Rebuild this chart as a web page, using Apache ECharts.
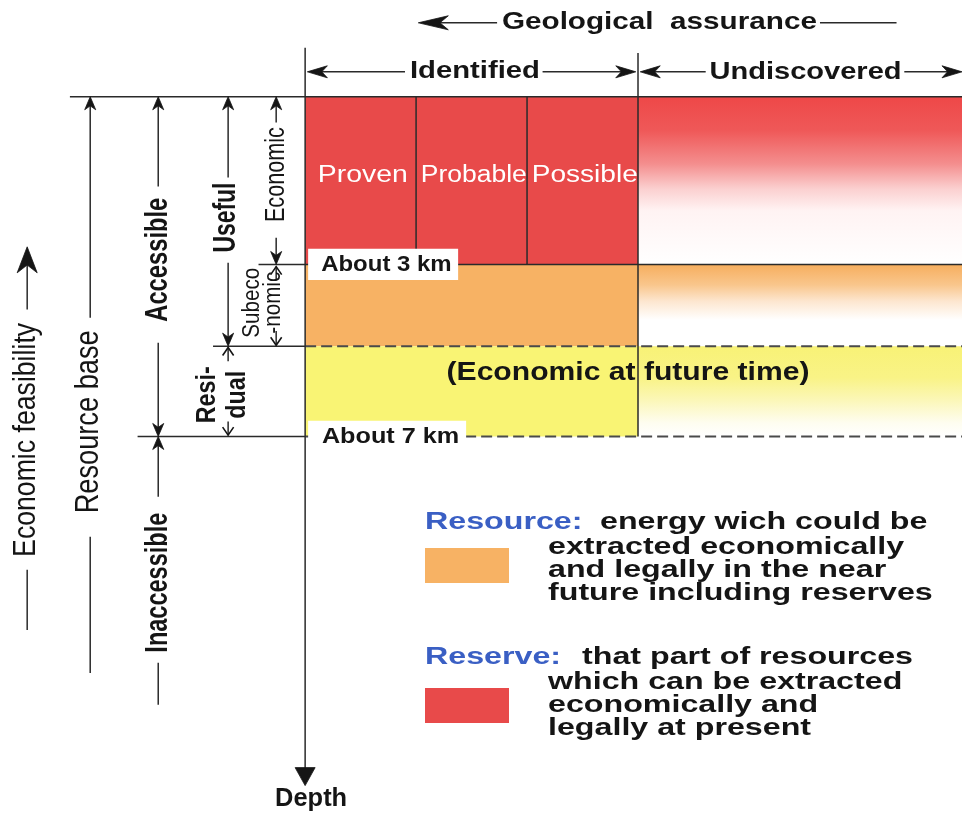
<!DOCTYPE html>
<html><head><meta charset="utf-8">
<script src="https://cdn.jsdelivr.net/npm/echarts@6/dist/echarts.min.js"></script>
<style>html,body{margin:0;padding:0;background:#fff}#c{width:962px;height:814px}</style>
</head><body><div id="c"></div>
<script>
// ---------------- data ----------------
const identifiedColumns = ['Proven', 'Probable', 'Possible'];
const assuranceClasses = ['Identified', 'Undiscovered'];
const feasibilityRows = ['Economic', 'Subeconomic', 'Residual'];
const rowEdges = [0, 3.9, 5.8, 7.9];            // schematic depth units (surface, ~3 km, sub/residual, ~7 km)
const depthMarkLabels = ['About 3 km', 'About 7 km'];
const depthMarkLevels = [rowEdges[1], rowEdges[3]];
const futureLabel = '(Economic at future time)';
const axisTitles = ['Geological  assurance', 'Economic feasibility', 'Depth'];
const leftBrackets = ['Resource base', 'Accessible', 'Inaccessible', 'Useful', 'Resi-\ndual', 'Economic', 'Subeco\n-nomic'];
const legendTerms = ['Resource:', 'Reserve:'];
const legendTexts = [
  ['energy wich could be', 'extracted economically', 'and legally in the near', 'future including reserves'],
  ['that part of resources', 'which can be extracted', 'economically and', 'legally at present']
];

// ---------------- layout / style ----------------
const X_MIN = -2.75, X_MAX = 5.92, Y_MIN = -2.25, Y_MAX = 16.68;
const FAMILY = '"Liberation Sans", Arial, Helvetica, sans-serif';
const RED = '#e84a4a', ORANGE = '#f7b264', YELLOW = '#f9f474', BLUE = '#3a5fc4', INK = '#151515';
const nCols = identifiedColumns.length;
const E = rowEdges;

const LG = echarts.graphic.LinearGradient;
const undiscoveredFills = [
  new LG(0, 0, 0, 1, [{offset:0,color:'#ee4848'},{offset:0.2,color:'#ef5858'},{offset:0.4,color:'#f48e8e'},{offset:0.55,color:'#fbd0d0'},{offset:0.68,color:'#fff3f3'},{offset:1,color:'#ffffff'}]),
  new LG(0, 0, 0, 1, [{offset:0,color:'#f6ae5e'},{offset:0.25,color:'#f9c68c'},{offset:0.45,color:'#fde6cf'},{offset:0.68,color:'#ffffff'},{offset:1,color:'#ffffff'}]),
  new LG(0, 0, 0, 1, [{offset:0,color:'#f8f276'},{offset:0.35,color:'#f9f386'},{offset:0.6,color:'#fbf7b8'},{offset:0.85,color:'#fefdf0'},{offset:1,color:'#ffffff'}])
];

// cells built from data arrays
const cells = [];
identifiedColumns.forEach((c, i) => cells.push({ x0: i, x1: i + 1, y0: E[0], y1: E[1], fill: RED }));
cells.push({ x0: 0, x1: nCols, y0: E[1], y1: E[2], fill: ORANGE });
cells.push({ x0: 0, x1: nCols, y0: E[2], y1: E[3], fill: YELLOW });
feasibilityRows.forEach((r, i) => cells.push({ x0: nCols, x1: X_MAX, y0: E[i], y1: E[i + 1], fill: undiscoveredFills[i] }));

// arrowhead styles (pixels)
const HEADS = {
  tri:   { len: 18, hw: 10, notch: 1 },
  small: { len: 13, hw: 5.5, notch: 0.7 },
  mid:   { len: 20, hw: 6, notch: 0.72 },
  big:   { len: 30, hw: 7, notch: 0.72 },
  feas:  { len: 26, hw: 10, notch: 0.7 },
  chev:  { len: 8, hw: 5.5, chev: true }
};

const EFx = -2.505, RBx = -1.937, ACx = -1.324, USx = -0.694, ECx = -0.261;
const segments = [
  { x0: -2.12, y0: E[0], x1: X_MAX, y1: E[0] },
  { x0: -0.42, y0: E[1], x1: X_MAX, y1: E[1] },
  { x0: -0.83, y0: E[2], x1: 0, y1: E[2] },
  { x0: 0, y0: E[2], x1: X_MAX, y1: E[2], dash: true },
  { x0: -1.51, y0: E[3], x1: 0, y1: E[3] },
  { x0: 0, y0: E[3], x1: X_MAX, y1: E[3], dash: true },
  ...identifiedColumns.slice(1).map((c, i) => ({ x0: i + 1, y0: E[0], x1: i + 1, y1: E[1] })),
  { x0: nCols, y0: -1.02, x1: nCols, y1: E[3] },
  { x0: 0, y0: -1.14, x1: 0, y1: 16.02, head: 'tri' },
  // header arrows
  { x0: 1.73, y0: -1.72, x1: 1.02, y1: -1.72, head: 'big' },
  { x0: 4.64, y0: -1.72, x1: 5.33, y1: -1.72 },
  { x0: 0.9, y0: -0.58, x1: 0.02, y1: -0.58, head: 'mid' },
  { x0: 2.14, y0: -0.58, x1: nCols - 0.02, y1: -0.58, head: 'mid' },
  { x0: 3.61, y0: -0.58, x1: nCols + 0.02, y1: -0.58, head: 'mid' },
  { x0: 5.40, y0: -0.58, x1: X_MAX, y1: -0.58, head: 'mid' },
  // left brackets
  { x0: EFx, y0: 12.40, x1: EFx, y1: 11.0 },
  { x0: EFx, y0: 4.95, x1: EFx, y1: 3.49, head: 'feas' },
  { x0: RBx, y0: 5.14, x1: RBx, y1: E[0], head: 'small' },
  { x0: RBx, y0: 10.23, x1: RBx, y1: 13.4 },
  { x0: ACx, y0: 2.09, x1: ACx, y1: E[0], head: 'small' },
  { x0: ACx, y0: 5.72, x1: ACx, y1: E[3], head: 'small' },
  { x0: ACx, y0: 9.30, x1: ACx, y1: E[3], head: 'small' },
  { x0: ACx, y0: 13.16, x1: ACx, y1: 14.14 },
  { x0: USx, y0: 1.88, x1: USx, y1: E[0], head: 'small' },
  { x0: USx, y0: 3.86, x1: USx, y1: E[2], head: 'small' },
  { x0: ECx, y0: 0.6, x1: ECx, y1: E[0], head: 'small' },
  { x0: ECx, y0: 3.28, x1: ECx, y1: E[1], head: 'small' },
  { x0: ECx, y0: 4.25, x1: ECx, y1: E[1] + 0.05, head: 'chev' },
  { x0: ECx, y0: 5.45, x1: ECx, y1: E[2] - 0.02, head: 'chev' },
  { x0: USx, y0: 6.15, x1: USx, y1: E[2] + 0.03, head: 'chev' },
  { x0: USx, y0: 7.55, x1: USx, y1: E[3] - 0.03, head: 'chev' }
];

// labels (x,y in axis units; width = target pixel length along reading direction)
const labels = [
  { text: axisTitles[0], x: 3.193, y: -1.72, size: 24, weight: 'bold', width: 315 },
  { text: assuranceClasses[0], x: 1.53, y: -0.58, size: 24, weight: 'bold', width: 130 },
  { text: assuranceClasses[1], x: 4.51, y: -0.56, size: 24, weight: 'bold', width: 192 },
  ...identifiedColumns.map((c, i) => ({ text: c, x: i + 0.52, y: (E[0] + E[1]) / 2 - 0.12, size: 23, weight: 'normal', color: '#ffffff', width: i === 0 ? 90 : 106 })),
  { text: futureLabel, x: 2.91, y: 6.42, size: 26, weight: 'bold', width: 363 },
  ...depthMarkLabels.map((t, i) => ({ text: t, x: 0.027, y: depthMarkLevels[i], size: 22, weight: 'bold', width: i === 0 ? 150 : 158, align: 'left', bg: '#ffffff', pad: [3, 6, 3, 12] })),
  { text: axisTitles[2], x: 0.054, y: 16.33, size: 25, weight: 'bold', width: 72 },
  // rotated
  { text: axisTitles[1], x: -2.51, y: 7.98, size: 26, weight: 'normal', width: 234, rot: true, sy: 1.2 },
  { text: leftBrackets[0], x: -1.955, y: 7.56, size: 26, weight: 'normal', width: 183, rot: true, sy: 1.3 },
  { text: leftBrackets[1], x: -1.324, y: 3.79, size: 24, weight: 'bold', width: 124, rot: true, sy: 1.3 },
  { text: leftBrackets[2], x: -1.324, y: 11.30, size: 24, weight: 'bold', width: 140, rot: true, sy: 1.3 },
  { text: leftBrackets[3], x: -0.712, y: 2.81, size: 23, weight: 'bold', width: 70, rot: true, sy: 1.35 },
  { text: leftBrackets[4], x: -0.748, y: 6.93, size: 21, weight: 'bold', width: 57, rot: true, sy: 1.3, lh: 23 },
  { text: leftBrackets[5], x: -0.265, y: 1.81, size: 21, weight: 'normal', width: 95, rot: true, sy: 1.35 },
  { text: leftBrackets[6], x: -0.378, y: 4.79, size: 18, weight: 'normal', width: 70, rot: true, sy: 1.28, lh: 16 }
];

// ---------------- helpers ----------------
const mctx = document.createElement('canvas').getContext('2d');
function measure(text, size, weight) {
  mctx.font = `${weight} ${size}px ${FAMILY}`;
  return Math.max(...text.split('\n').map(t => mctx.measureText(t).width));
}
function headShape(tip, from, h) {
  let dx = tip[0] - from[0], dy = tip[1] - from[1];
  const d = Math.hypot(dx, dy) || 1; dx /= d; dy /= d;
  const px = -dy, py = dx;
  const bx = tip[0] - dx * h.len, by = tip[1] - dy * h.len;
  if (h.chev) {
    return { type: 'polyline', shape: { points: [[bx + px * h.hw, by + py * h.hw], tip, [bx - px * h.hw, by - py * h.hw]] },
      style: { stroke: INK, lineWidth: 1.6, fill: null } };
  }
  const nx = tip[0] - dx * h.len * h.notch, ny = tip[1] - dy * h.len * h.notch;
  return { type: 'polygon', shape: { points: [tip, [bx + px * h.hw, by + py * h.hw], [nx, ny], [bx - px * h.hw, by - py * h.hw]] },
    style: { fill: INK, stroke: INK, lineWidth: 0.8 } };
}

const chart = echarts.init(document.getElementById('c'), null, { renderer: 'canvas' });
chart.setOption({
  animation: false,
  backgroundColor: '#ffffff',
  grid: { left: 0, right: 0, top: 0, bottom: 0 },
  xAxis: { type: 'value', min: X_MIN, max: X_MAX, show: false },
  yAxis: { type: 'value', min: Y_MIN, max: Y_MAX, inverse: true, show: false },
  series: [
    {
      type: 'custom', name: 'cells', z: 1, silent: true,
      data: cells.map(c => [c.x0, c.y0, c.x1, c.y1]),
      encode: { x: [0, 2], y: [1, 3] },
      renderItem(params, api) {
        const c = cells[params.dataIndex];
        const p0 = api.coord([api.value(0), api.value(1)]);
        const p1 = api.coord([api.value(2), api.value(3)]);
        return { type: 'rect', shape: { x: p0[0], y: p0[1], width: p1[0] - p0[0], height: p1[1] - p0[1] }, style: { fill: c.fill } };
      }
    },
    {
      type: 'custom', name: 'lines', z: 2, silent: true,
      data: segments.map(s => [s.x0, s.y0, s.x1, s.y1]),
      encode: { x: [0, 2], y: [1, 3] },
      renderItem(params, api) {
        const s = segments[params.dataIndex];
        const p0 = api.coord([api.value(0), api.value(1)]);
        let p1 = api.coord([api.value(2), api.value(3)]);
        const children = [];
        let end = p1;
        if (s.head && !HEADS[s.head].chev) {
          const h = HEADS[s.head];
          const dx = p1[0] - p0[0], dy = p1[1] - p0[1], d = Math.hypot(dx, dy) || 1;
          end = [p1[0] - dx / d * h.len * 0.5, p1[1] - dy / d * h.len * 0.5];
        }
        children.push({ type: 'line', shape: { x1: p0[0], y1: p0[1], x2: end[0], y2: end[1] },
          style: s.dash ? { stroke: '#4a4a4a', lineWidth: 2, lineDash: [11, 5] } : { stroke: '#2a2a2a', lineWidth: 1.5 } });
        if (s.head) children.push(headShape(p1, p0, HEADS[s.head]));
        return { type: 'group', children };
      }
    },
    {
      type: 'custom', name: 'labels', z: 3, silent: true,
      data: labels.map(l => [l.x, l.y]),
      encode: { x: 0, y: 1 },
      renderItem(params, api) {
        const L = labels[params.dataIndex];
        const p = api.coord([api.value(0), api.value(1)]);
        const padW = L.pad ? L.pad[1] + L.pad[3] : 0;
        const natural = measure(L.text, L.size, L.weight) + padW;
        const sx = L.width ? L.width / natural : 1;
        return {
          type: 'text', x: p[0], y: p[1],
          rotation: L.rot ? Math.PI / 2 : 0,
          scaleX: sx, scaleY: L.sy || 1,
          style: {
            text: L.text, fontSize: L.size, fontWeight: L.weight, fontFamily: FAMILY,
            fill: L.color || INK, align: L.align || 'center', verticalAlign: 'middle',
            lineHeight: L.lh || L.size * 1.15,
            backgroundColor: L.bg, padding: L.pad
          }
        };
      }
    }
  ],
  graphic: (function () {
    const els = [];
    const swatch = [ORANGE, RED];
    const termY = [523, 658];
    const lineYs = [[548, 571, 594], [683, 706, 729]];
    const swatchY = [548, 688];
    const txt = (t, x, y, fill) => ({ type: 'text', x, y, scaleX: 1.4, z: 10,
      style: { text: t, fontSize: 23, fontWeight: 'bold', fontFamily: FAMILY, fill, align: 'left', verticalAlign: 'middle' } });
    legendTerms.forEach((term, i) => {
      els.push({ type: 'rect', shape: { x: 425, y: swatchY[i], width: 84, height: 35 }, style: { fill: swatch[i] }, z: 10 });
      els.push(txt(term, 425, termY[i], BLUE));
      els.push(txt(legendTexts[i][0], i === 0 ? 600 : 582, termY[i], INK));
      legendTexts[i].slice(1).forEach((t, j) => els.push(txt(t, 548, lineYs[i][j], INK)));
    });
    return els;
  })()
});
</script>
</body></html>
